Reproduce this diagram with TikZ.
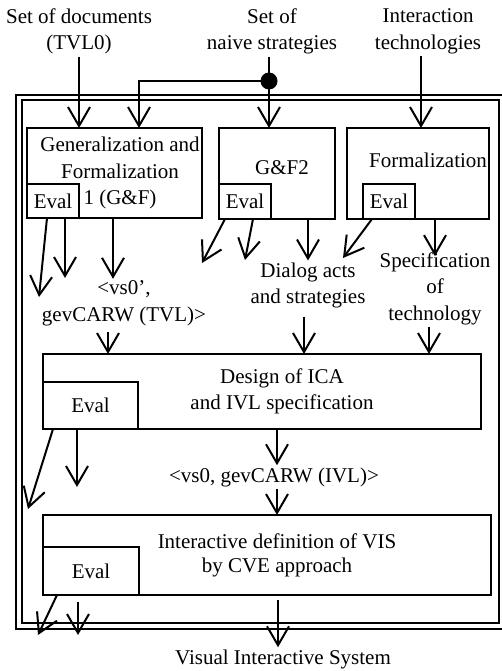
\documentclass[tikz,border=0pt]{standalone}
\usepackage{fontspec}
\setmainfont{Liberation Serif}
\usetikzlibrary{arrows.meta}
\tikzset{
  stage/.style={draw, rectangle, line width=2.2pt, inner sep=0pt, outer sep=0pt},
  evalbox/.style={stage, fill=white, font=\fontsize{21}{26}\selectfont},
  txt/.style={align=center, inner sep=2pt, font=\fontsize{21}{26.5}\selectfont},
  flow/.style={line width=2pt, -{Straight Barb[length=19pt,width=22pt,line width=2pt]}},
  dot/.style={circle, fill, inner sep=0pt, minimum size=17pt}
}
\begin{document}
\begin{tikzpicture}[x=1pt,y=-1pt]
    \useasboundingbox (0,0) rectangle (501,671);
    % inputs
    \node[txt] (docs) at (79,31.5) {Set of documents\\(TVL0)};
    \node[txt] (naive) at (272,31.5) {Set of\\naive strategies};
    \node[txt] (tech) at (428,31.5) {Interaction\\technologies};
    % double frame
    \draw[line width=2pt] (16,95) rectangle (506,629);
    \draw[line width=2pt] (22,100) rectangle (499,623);

    % first row
    \node[stage, minimum width=175pt, minimum height=90pt] (gen) at (114.5,173) {};
    \node[evalbox, minimum width=52pt, minimum height=34pt, anchor=south west] (geneval) at (gen.south west) {Eval};
    \node[txt] (gentxt) at (120,173) {Generalization and\\Formalization\\1 (G\&F)};
    \node[stage, minimum width=116pt, minimum height=91pt] (gf2) at (277,173.5) {};
    \node[evalbox, minimum width=52pt, minimum height=35pt, anchor=south west] (gf2eval) at (gf2.south west) {Eval};
    \node[txt] (gf2txt) at (282,168) {G\&F2};
    \node[stage, minimum width=142pt, minimum height=91pt] (form) at (418,173.5) {};
    \node[evalbox, minimum width=52pt, minimum height=35pt, anchor=south west] (formeval) at ([xshift=16pt]form.south west) {Eval};
    \node[txt] (formtxt) at (428,160) {Formalization};

    % intermediate results
    \node[txt] (vs0) at (124,303.5) {<vs0’,\\gevCARW (TVL)>};
    \node[txt] (dialog) at (308,285.5) {Dialog acts\\and strategies};
    \node[txt] (spec) at (435,288.5) {Specification\\of\\technology};

    % second and third rows
    \node[stage, minimum width=438pt, minimum height=75pt] (design) at (262,391.5) {};
    \node[evalbox, minimum width=95pt, minimum height=47pt, anchor=south west] (designeval) at (design.south west) {Eval};
    \node[txt] (designtxt) at (282,391.5) {Design of ICA\\and IVL specification};
    \node[txt] (ivl) at (274,477) {<vs0, gevCARW (IVL)>};
    \node[stage, minimum width=448pt, minimum height=80pt] (inter) at (267,555) {};
    \node[evalbox, minimum width=96pt, minimum height=48pt, anchor=south west] (intereval) at (inter.south west) {Eval};
    \node[txt, font=\fontsize{21}{24}\selectfont] (intertxt) at (277,555) {Interactive definition of VIS\\by CVE approach};
    \node[txt] (vis) at (283,659) {Visual Interactive System};

    % input arrows
    \node[dot] (split) at (269,81) {};
    \draw[flow] (docs.south) -- (docs.south |- gen.north);
    \draw[line width=2pt] (split.center |- naive.south) -- (split.center);
    \draw[flow] (split.center) -- (split.center |- gf2.north);
    \draw[flow] (split.center) -| ([xshift=24.5pt]gen.north);
    \draw[flow] ([xshift=-7pt]tech.south) -- ([xshift=-7pt]tech.south |- form.north);

    % first row outputs
    \coordinate (genout) at (39,297);
    \coordinate (gf2out) at (202,263);
    \coordinate (formout) at (343,258);
    \draw[flow] ([xshift=-6pt]geneval.south) -- (genout);
    \draw[flow] ([xshift=12pt]geneval.south) -- ++(0,60);
    \draw[flow] ([xshift=-1.5pt]gen.south) -- ([xshift=-1.5pt]gen.south |- vs0.north);
    \draw[flow] ([xshift=-20pt]gf2eval.south) -- (gf2out);
    \draw[flow] ([xshift=8pt]gf2eval.south) -- ++(-8,41);
    \draw[flow] (dialog.north |- gf2.south) -- (dialog.north);
    \draw[flow] ([xshift=-17pt]formeval.south) -- (formout);
    \draw[flow] (spec.north |- form.south) -- ([yshift=-6pt]spec.north);

    % into design
    \draw[flow] ([xshift=-16pt,yshift=-4pt]vs0.south) -- ([xshift=-16pt]vs0.south |- design.north);
    \draw[flow] ([xshift=-4pt,yshift=-6pt]dialog.south) -- ([xshift=-4pt]dialog.south |- design.north);
    \draw[flow] ([xshift=-6pt]spec.south) -- ([xshift=-6pt]spec.south |- design.north);

    % design outputs
    \coordinate (designout) at (28,509);
    \draw[flow] ([xshift=-37.5pt]designeval.south) -- (designout);
    \draw[flow] ([xshift=-13.5pt]designeval.south) -- ++(0,58);
    \draw[flow] ([xshift=3pt]ivl.north |- design.south) -- ([xshift=3pt]ivl.north);
    \draw[flow] ([xshift=3pt]ivl.south) -- ([xshift=3pt]ivl.south |- inter.north);

    % final outputs
    \coordinate (interout) at (38,635);
    \draw[flow] ([xshift=-34pt]intereval.south) -- (interout);
    \draw[flow] ([xshift=-13pt,yshift=-7pt]intereval.south) -- ++(0,33);
    \draw[flow] ([xshift=-5pt,yshift=-5pt]vis.north |- inter.south) -- ([xshift=-5pt]vis.north);
\end{tikzpicture}
\end{document}
